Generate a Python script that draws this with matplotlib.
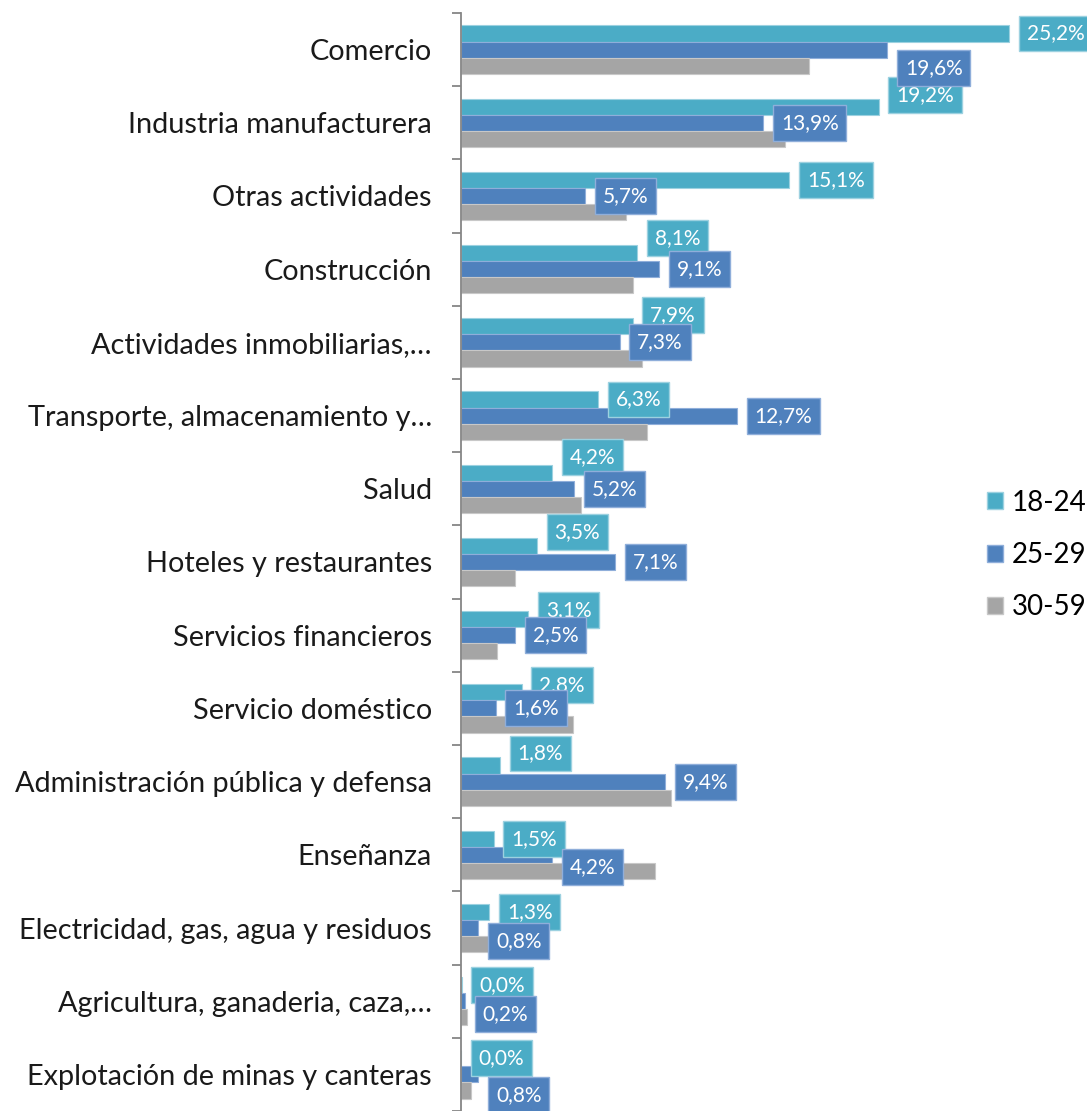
import matplotlib
matplotlib.use("Agg")
import matplotlib.pyplot as plt
from matplotlib.patches import Patch
import numpy as np

categories = [
    "Comercio",
    "Industria manufacturera",
    "Otras actividades",
    "Construcción",
    "Actividades inmobiliarias,…",
    "Transporte, almacenamiento y…",
    "Salud",
    "Hoteles y restaurantes",
    "Servicios financieros",
    "Servicio doméstico",
    "Administración pública y defensa",
    "Enseñanza",
    "Electricidad, gas, agua y residuos",
    "Agricultura, ganaderia, caza,…",
    "Explotación de minas y canteras",
]
series_names = ["18-24", "25-29", "30-59"]
v_18_24 = [25.2, 19.2, 15.1, 8.1, 7.9, 6.3, 4.2, 3.5, 3.1, 2.8, 1.8, 1.5, 1.3, 0.04, 0.0]
v_25_29 = [19.6, 13.9, 5.7, 9.1, 7.3, 12.7, 5.2, 7.1, 2.5, 1.6, 9.4, 4.2, 0.8, 0.2, 0.8]
v_30_59 = [16.0, 14.9, 7.6, 7.9, 8.3, 8.55, 5.5, 2.5, 1.65, 5.15, 9.65, 8.9, 1.5, 0.28, 0.45]

# label vertical nudges (pixels, positive = down) mimicking the original layout
nudge_18_24 = [0, -12, 0, -15, -11, 0, -16, -14, -9, -7, -12, 0, 0, 0, 0]
nudge_25_29 = [18, 0, 0, 0, 0, 0, 0, 0, 0, 0, 0, 12, 13, 13, 21]

colors = ["#4BACC6", "#4F81BD", "#A5A5A5"]
edge_colors = ["#9CD1E0", "#8FAEDA", "#C8C8C8"]

plt.rcParams["font.family"] = ["Lato", "DejaVu Sans"]

W, H = 1087, 1111
fig = plt.figure(figsize=(W / 100, H / 100), dpi=100)
ax_left, ax_top = 461, 13
px_per_unit = 21.75
ax_w = W - ax_left
ax = fig.add_axes([ax_left / W, 0, ax_w / W, (H - ax_top) / H])

n = len(categories)
y = np.arange(n)
bh = 0.22
all_vals = [v_18_24, v_25_29, v_30_59]
for i, (vals, c, ec) in enumerate(zip(all_vals, colors, edge_colors)):
    ax.barh(y + (i - 1) * bh, vals, height=bh, color=c, edgecolor=ec,
            linewidth=0.8, label=series_names[i], zorder=2)

ax.set_xlim(0, ax_w / px_per_unit)
ax.set_ylim(n - 0.5, -0.5)

# data labels
for i, (vals, nudges) in enumerate([(v_18_24, nudge_18_24), (v_25_29, nudge_25_29)]):
    for k, (v, dy) in enumerate(zip(vals, nudges)):
        txt = f"{v:.1f}%".replace(".", ",")
        ax.annotate(txt, xy=(v, y[k] + (i - 1) * bh), xytext=(17.5, -dy),
                    textcoords="offset pixels", ha="left", va="center",
                    fontsize=15, color="white", zorder=5 + i,
                    bbox=dict(boxstyle="square,pad=0.38", fc=colors[i],
                              ec=edge_colors[i], lw=1.0))

# axes styling
for s in ["top", "right", "bottom"]:
    ax.spines[s].set_visible(False)
ax.spines["left"].set_color("#868686")
ax.spines["left"].set_linewidth(1.3)
ax.set_xticks([])
ax.set_yticks(y)
ax.set_yticklabels(categories, fontsize=20.8, color="#1a1a1a")
ax.tick_params(axis="y", which="major", length=0, pad=21)
ax.set_yticks(np.arange(-0.5, n, 1.0), minor=True)
ax.tick_params(axis="y", which="minor", length=6.5, width=1.3, color="#868686")

handles = [Patch(facecolor=colors[i], edgecolor=edge_colors[i], label=series_names[i])
           for i in range(3)]
fig.legend(handles=handles, loc="center left",
           bbox_to_anchor=(987 / W, 1 - 555 / H), frameon=False, fontsize=20,
           handlelength=0.58, handleheight=0.58, handletextpad=0.3,
           labelspacing=0.95, borderpad=0, borderaxespad=0)

fig.savefig("out.png", dpi=100)
